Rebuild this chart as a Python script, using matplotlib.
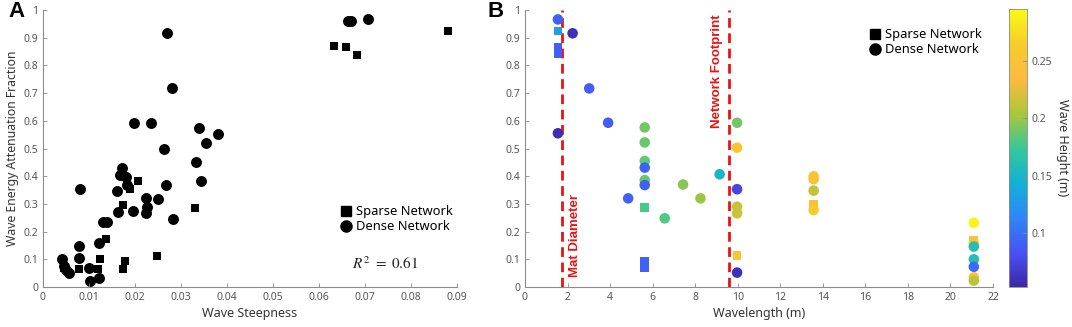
import numpy as np
import matplotlib
matplotlib.use("Agg")
import matplotlib.pyplot as plt
from matplotlib.colors import LinearSegmentedColormap
from matplotlib.lines import Line2D

# ---------------- Panel A data ----------------
a_dense_x = [0.0042, 0.0045, 0.0050, 0.0057, 0.0078, 0.0078, 0.0080, 0.0101, 0.0103,
             0.0122, 0.0122, 0.0130, 0.0139, 0.0163, 0.0160, 0.0167, 0.0172, 0.0181,
             0.0182, 0.0196, 0.0197, 0.0223, 0.0226, 0.0225, 0.0234, 0.0251, 0.0263,
             0.0267, 0.0269, 0.0283, 0.0281, 0.0333, 0.0340, 0.0344, 0.0354, 0.0381,
             0.0664, 0.0670, 0.0706]
a_dense_y = [0.100, 0.075, 0.060, 0.049, 0.148, 0.104, 0.353, 0.067, 0.022,
             0.034, 0.158, 0.236, 0.236, 0.270, 0.347, 0.404, 0.428, 0.398,
             0.368, 0.276, 0.593, 0.266, 0.290, 0.320, 0.593, 0.318, 0.500,
             0.368, 0.916, 0.245, 0.717, 0.450, 0.575, 0.383, 0.521, 0.552,
             0.962, 0.962, 0.968]
a_sparse_x = [0.0045, 0.0078, 0.0120, 0.0125, 0.0136, 0.0175, 0.0175, 0.0179, 0.0190,
              0.0207, 0.0248, 0.0331, 0.0633, 0.0659, 0.0682, 0.0881]
a_sparse_y = [0.070, 0.064, 0.064, 0.100, 0.172, 0.297, 0.064, 0.095, 0.354,
              0.383, 0.113, 0.286, 0.871, 0.865, 0.837, 0.924]
a_xticks = [0, 0.01, 0.02, 0.03, 0.04, 0.05, 0.06, 0.07, 0.08, 0.09]
a_xticklabels = ["0", "0.01", "0.02", "0.03", "0.04", "0.05", "0.06", "0.07", "0.08", "0.09"]
yticks = [0, 0.1, 0.2, 0.3, 0.4, 0.5, 0.6, 0.7, 0.8, 0.9, 1.0]
yticklabels = ["0", "0.1", "0.2", "0.3", "0.4", "0.5", "0.6", "0.7", "0.8", "0.9", "1"]

# ---------------- Panel B data ----------------
b_sparse_x = [1.55, 1.55, 1.55, 5.63, 5.63, 5.63, 9.97, 13.57, 21.1]
b_sparse_y = [0.924, 0.866, 0.842, 0.286, 0.094, 0.070, 0.115, 0.300, 0.167]
b_sparse_h = [0.133, 0.090, 0.090, 0.178, 0.092, 0.092, 0.255, 0.245, 0.250]

b_dense_x = [1.55, 2.24, 3.02, 3.91, 1.55,
             5.63, 5.63, 5.63, 5.63, 5.63, 5.63,
             4.85, 6.57, 7.43, 8.25, 9.15,
             9.97, 9.97, 9.97, 9.97, 9.97, 9.97,
             13.57, 13.57, 13.57, 13.57,
             21.1, 21.1, 21.1, 21.1, 21.1, 21.1, 21.1]
b_dense_y = [0.966, 0.916, 0.717, 0.593, 0.555,
             0.576, 0.522, 0.455, 0.431, 0.386, 0.368,
             0.320, 0.248, 0.370, 0.320, 0.407,
             0.593, 0.503, 0.353, 0.290, 0.266, 0.052,
             0.400, 0.389, 0.348, 0.278,
             0.232, 0.158, 0.146, 0.100, 0.073, 0.035, 0.023]
b_dense_h = [0.092, 0.060, 0.090, 0.090, 0.058,
             0.190, 0.188, 0.185, 0.092, 0.188, 0.092,
             0.092, 0.180, 0.195, 0.200, 0.150,
             0.190, 0.255, 0.075, 0.215, 0.215, 0.060,
             0.250, 0.248, 0.212, 0.262,
             0.292, 0.252, 0.160, 0.160, 0.098, 0.250, 0.210]
b_xticks = list(range(0, 23, 2))
mat_diameter = 1.75
network_footprint = 9.6
h_min, h_max = 0.053, 0.295
cbar_ticks = [0.1, 0.15, 0.2, 0.25]
cbar_ticklabels = ["0.1", "0.15", "0.2", "0.25"]

# parula-like colormap
parula_pts = [(0.0, (0.2422, 0.1504, 0.6603)),
              (0.125, (0.2810, 0.3228, 0.9579)),
              (0.25, (0.1786, 0.5289, 0.9682)),
              (0.375, (0.0689, 0.6948, 0.8394)),
              (0.5, (0.2161, 0.7843, 0.5923)),
              (0.625, (0.6720, 0.7793, 0.2227)),
              (0.75, (0.9890, 0.7300, 0.2500)),
              (0.875, (0.9700, 0.8000, 0.1700)),
              (1.0, (0.9769, 0.9839, 0.0805))]
parula = LinearSegmentedColormap.from_list("parula", parula_pts)

plt.rcParams['font.family'] = ['Noto Sans', 'DejaVu Sans']
tick_col = '#555555'
spine_col = '#8c8c8c'
bold_fam = ['Liberation Sans', 'DejaVu Sans']

fig = plt.figure(figsize=(10.72, 3.27), dpi=100)
axA = fig.add_axes([0.0401, 0.1223, 0.3862, 0.8471])
axB = fig.add_axes([0.4897, 0.1223, 0.4366, 0.8471])
cax = fig.add_axes([0.9412, 0.1223, 0.0168, 0.8502])


def style(ax):
    for s in ['top', 'right']:
        ax.spines[s].set_visible(False)
    for s in ['left', 'bottom']:
        ax.spines[s].set_color(spine_col)
        ax.spines[s].set_linewidth(0.8)
    ax.tick_params(direction='in', length=3, width=0.6, colors=spine_col,
                   labelcolor=tick_col, labelsize=7.5)
    ax.set_ylim(0, 1)
    ax.set_yticks(yticks)
    ax.set_yticklabels(yticklabels)


# Panel A
style(axA)
axA.scatter(a_sparse_x, a_sparse_y, marker='s', s=34, c='black', linewidths=0)
axA.scatter(a_dense_x, a_dense_y, marker='o', s=62, c='black', linewidths=0)
axA.set_xlim(0, 0.09)
axA.set_xticks(a_xticks)
axA.set_xticklabels(a_xticklabels)
axA.set_xlabel("Wave Steepness", fontsize=9, color='#333333', labelpad=3)
axA.set_ylabel("Wave Energy Attenuation Fraction", fontsize=8.8, color='#333333', labelpad=3)
hA = [Line2D([], [], marker='s', ls='', color='black', markersize=7),
      Line2D([], [], marker='o', ls='', color='black', markersize=8)]
axA.legend(hA, ["Sparse Network", "Dense Network"], loc='center left',
           bbox_to_anchor=(0.70, 0.245), frameon=False, fontsize=9.3,
           handletextpad=0.2, labelspacing=0.15, borderaxespad=0, handlelength=1.2)
axA.text(0.0743, 0.08, r"$R^2\ =\ 0.61$", fontsize=11, ha='center', va='center',
         math_fontfamily='stix', color='#222222')
fig.text(0.0075, 0.965, "A", fontsize=16, fontweight='bold', family=bold_fam,
         ha='left', va='center')

# Panel B
style(axB)
axB.set_xlim(0, 22)
axB.set_xticks(b_xticks)
axB.set_xticklabels([str(t) for t in b_xticks])
axB.axvline(mat_diameter, color='#ee1111', ls=(0, (3.5, 2)), lw=2, zorder=3)
axB.axvline(network_footprint, color='#ee1111', ls=(0, (3.5, 2)), lw=2, zorder=3)
axB.scatter(b_sparse_x, b_sparse_y, marker='s', s=40, c=b_sparse_h, cmap=parula,
            vmin=h_min, vmax=h_max, linewidths=0, zorder=4)
sc = axB.scatter(b_dense_x, b_dense_y, marker='o', s=58, c=b_dense_h, cmap=parula,
                 vmin=h_min, vmax=h_max, linewidths=0, zorder=4)
axB.text(2.35, 0.035, "Mat Diameter", rotation=90, color='#ee1111', fontweight='bold',
         family=bold_fam, fontsize=9.5, ha='center', va='bottom')
axB.text(9.05, 0.985, "Network Footprint", rotation=90, color='#ee1111', fontweight='bold',
         family=bold_fam, fontsize=9.5, ha='center', va='top')
axB.set_xlabel("Wavelength (m)", fontsize=9, color='#333333', labelpad=3)
hB = [Line2D([], [], marker='s', ls='', color='black', markersize=7),
      Line2D([], [], marker='o', ls='', color='black', markersize=8)]
axB.legend(hB, ["Sparse Network", "Dense Network"], loc='center left',
           bbox_to_anchor=(0.72, 0.883), frameon=False, fontsize=9.3,
           handletextpad=0.2, labelspacing=0.15, borderaxespad=0, handlelength=1.2)
fig.text(0.455, 0.965, "B", fontsize=16, fontweight='bold', family=bold_fam,
         ha='left', va='center')

cb = fig.colorbar(sc, cax=cax)
cb.set_ticks(cbar_ticks)
cb.set_ticklabels(cbar_ticklabels)
cb.outline.set_edgecolor(spine_col)
cb.outline.set_linewidth(0.6)
cax.tick_params(direction='in', length=3, width=0.6, colors=spine_col,
                labelcolor=tick_col, labelsize=7.5)
cb.set_label("Wave Height (m)", rotation=270, fontsize=9, color='#333333', labelpad=12)

fig.savefig("out.png", dpi=100)
